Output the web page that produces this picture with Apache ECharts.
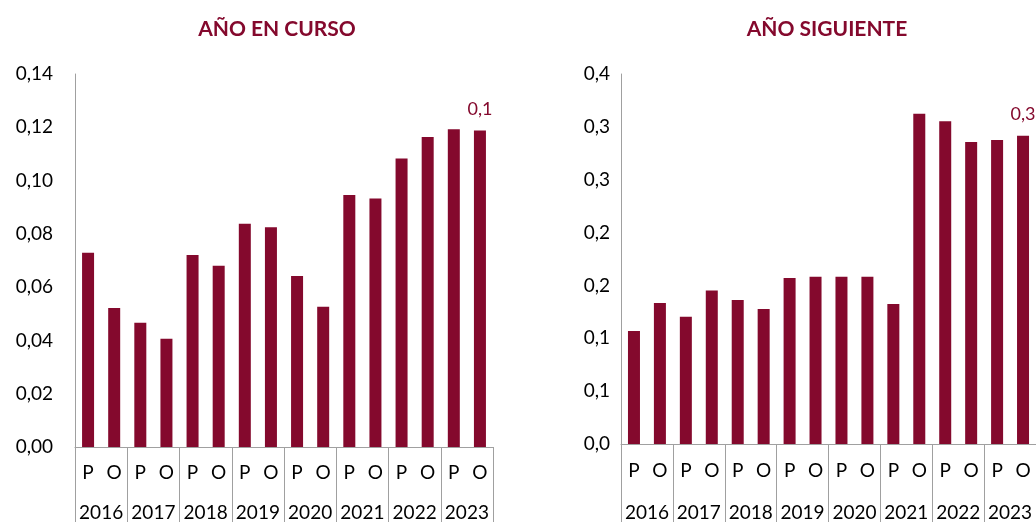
<!DOCTYPE html>
<html>
<head>
<meta charset="utf-8">
<script src="https://cdn.jsdelivr.net/npm/echarts@6/dist/echarts.min.js"></script>
<style>
html, body { margin: 0; padding: 0; background: #fff; }
#chart { width: 1036px; height: 522px; }
</style>
</head>
<body>
<div id="chart"></div>
<script>
const periods = ['P', 'O', 'P', 'O', 'P', 'O', 'P', 'O', 'P', 'O', 'P', 'O', 'P', 'O', 'P', 'O'];
const years = ['2016', '2017', '2018', '2019', '2020', '2021', '2022', '2023'];
const currentYear = [0.0729, 0.0522, 0.0466, 0.0406, 0.0721, 0.0680, 0.0838, 0.0825,
                     0.0642, 0.0526, 0.0946, 0.0933, 0.1083, 0.1164, 0.1193, 0.1188];
const nextYear = [0.1069, 0.1334, 0.1204, 0.1453, 0.1362, 0.1277, 0.1570, 0.1583,
                  0.1583, 0.1583, 0.1324, 0.3125, 0.3052, 0.2857, 0.2876, 0.2917];

const barColor = '#84092D';
const font = 'Lato';

function comma(v, d) {
    const f = Math.pow(10, d);
    return (Math.round(v * f + 1e-6) / f).toFixed(d).replace('.', ',');
}

// only the last bar of each chart carries a label
function withLastLabel(arr) {
    return arr.map(function (v, i) {
        if (i === arr.length - 1) {
            return { value: v, label: { show: true } };
        }
        return v;
    });
}

function periodAxis(grid, margin) {
    return {
        type: 'category', gridIndex: grid, data: periods,
        axisLine: { show: true, lineStyle: { color: '#a0a0a0', width: 1 } },
        axisTick: { show: false },
        axisLabel: { color: '#000', fontFamily: font, fontSize: 19, margin: margin, interval: 0 }
    };
}

function yearAxis(grid, margin) {
    return {
        type: 'category', gridIndex: grid, data: years, position: 'bottom',
        axisLine: { show: false },
        axisTick: { show: true, length: 82, interval: 0, lineStyle: { color: '#a0a0a0', width: 1 } },
        axisLabel: { color: '#000', fontFamily: font, fontSize: 19, margin: margin, interval: 0 }
    };
}

const chart = echarts.init(document.getElementById('chart'));
const option = {
    animation: false,
    title: [{
        text: 'AÑO EN CURSO', left: 272, top: 14, textAlign: 'center',
        textStyle: { color: barColor, fontFamily: font, fontSize: 21, fontWeight: 'bold' }
    }, {
        text: 'AÑO SIGUIENTE', left: 822, top: 14, textAlign: 'center',
        textStyle: { color: barColor, fontFamily: font, fontSize: 21, fontWeight: 'bold' }
    }],
    grid: [
        { left: 75, top: 74, width: 418, bottom: 75 },
        { left: 621, top: 74, width: 416, bottom: 78 }
    ],
    xAxis: [periodAxis(0, 16), yearAxis(0, 56), periodAxis(1, 17), yearAxis(1, 59)],
    yAxis: [{
        type: 'value', gridIndex: 0, min: 0, max: 0.14, interval: 0.02,
        splitLine: { show: false },
        axisLine: { show: true, lineStyle: { color: '#a0a0a0', width: 1 } },
        axisTick: { show: false },
        axisLabel: {
            color: '#000', fontFamily: font, fontSize: 19, margin: 22,
            formatter: function (v) { return comma(v, 2); }
        }
    }, {
        type: 'value', gridIndex: 1, min: 0, max: 0.35, interval: 0.05,
        splitLine: { show: false },
        axisLine: { show: true, lineStyle: { color: '#a0a0a0', width: 1 } },
        axisTick: { show: false },
        axisLabel: {
            color: '#000', fontFamily: font, fontSize: 19, margin: 11,
            formatter: function (v) { return comma(v, 1); }
        }
    }],
    series: [{
        type: 'bar', xAxisIndex: 0, yAxisIndex: 0,
        data: withLastLabel(currentYear),
        barWidth: 12,
        itemStyle: { color: barColor },
        label: {
            show: false, position: 'top', distance: 12,
            color: barColor, fontFamily: font, fontSize: 18,
            formatter: function (p) { return comma(p.value, 1); }
        }
    }, {
        type: 'bar', xAxisIndex: 2, yAxisIndex: 1,
        data: withLastLabel(nextYear),
        barWidth: 12,
        itemStyle: { color: barColor },
        label: {
            show: false, position: 'top', distance: 12,
            color: barColor, fontFamily: font, fontSize: 18,
            formatter: function (p) { return comma(p.value, 1); }
        }
    }]
};
chart.setOption(option);
</script>
</body>
</html>
